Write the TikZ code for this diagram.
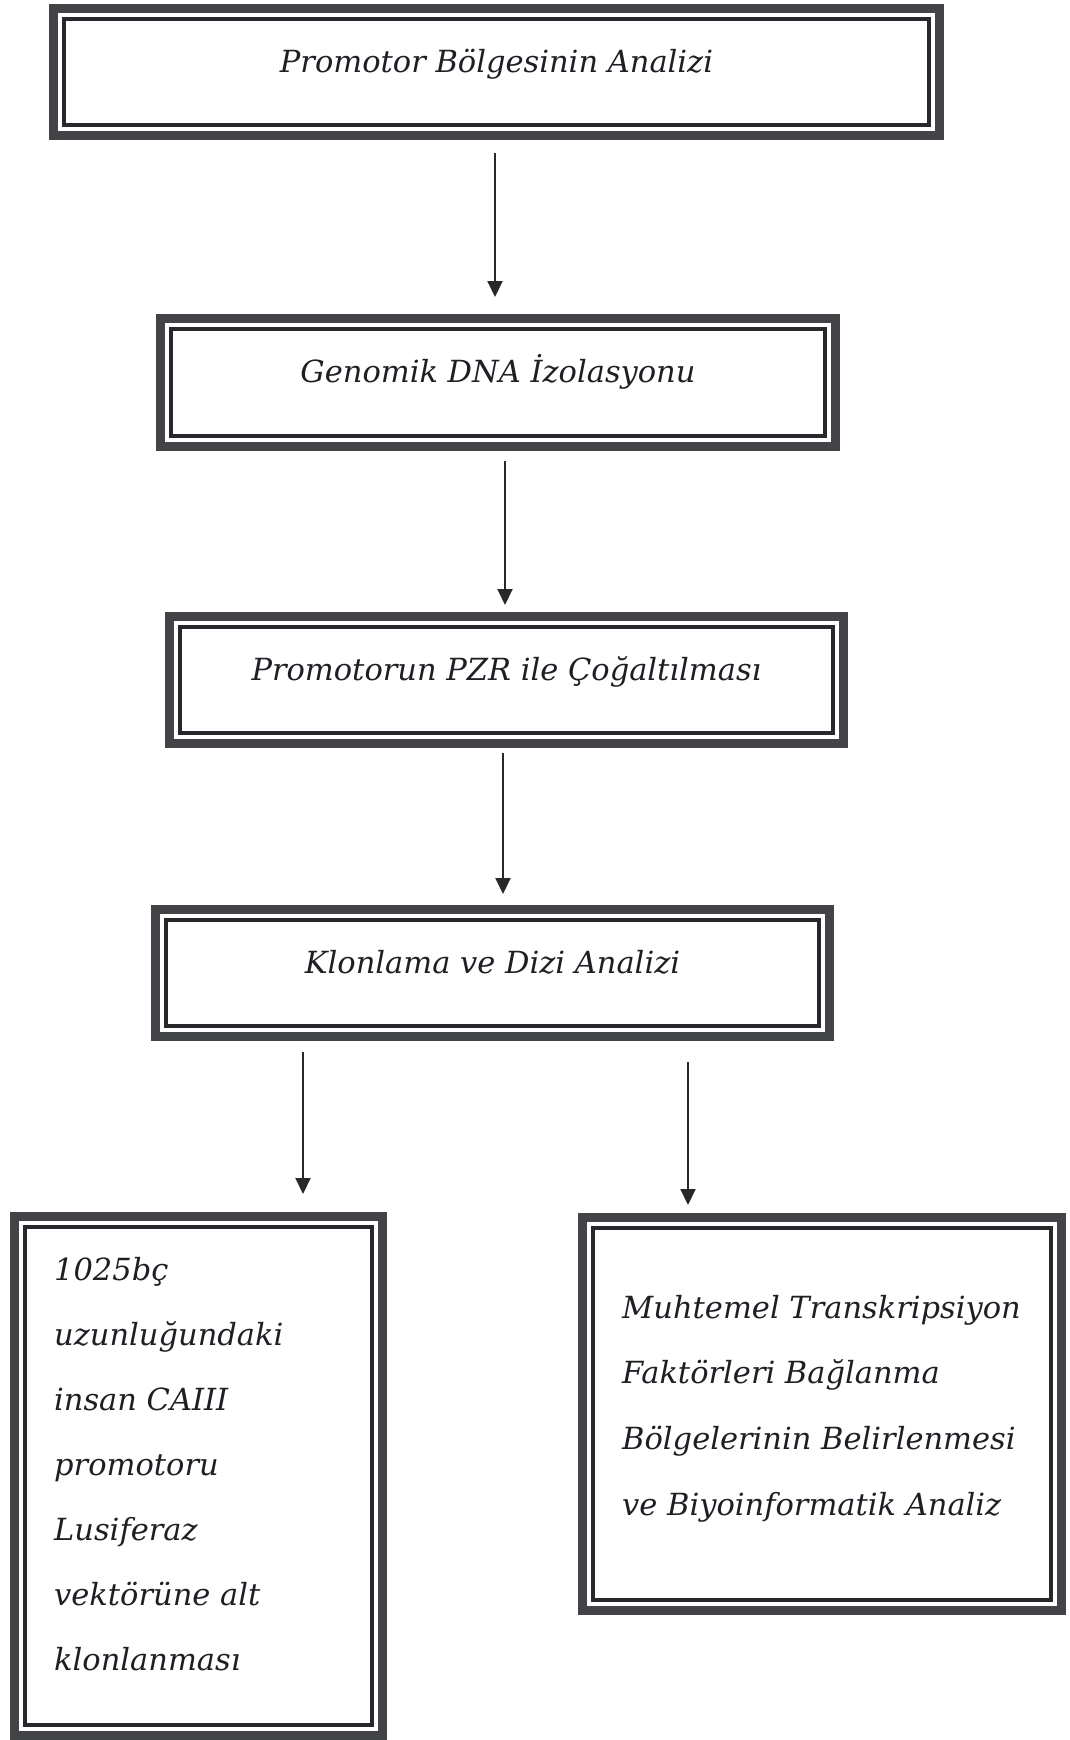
\documentclass[tikz,border=0pt]{standalone}
\usepackage{fontspec}
\setmainfont{DejaVu Serif}
\usetikzlibrary{arrows.meta}
\definecolor{framec}{RGB}{66,68,72}
\definecolor{innerc}{RGB}{40,40,44}
\definecolor{textc}{RGB}{30,30,36}
\definecolor{arrc}{RGB}{40,40,42}
\newcommand{\boxfont}{\itshape\fontsize{30.5}{65.5}\selectfont}
\tikzset{
  x=1pt, y=1pt,
  framebox/.style={draw=framec, line width=9pt, inner sep=0pt, text=textc,
    font=\boxfont, text height=0pt, text depth=0pt},
  innerline/.style={draw=innerc, line width=3.2pt},
  linetext/.style={anchor=base west, inner sep=0pt, text=textc, font=\boxfont},
  arr/.style={draw=arrc, line width=2pt, -{Triangle[width=15pt,length=16pt]}}
}
\begin{document}
\begin{tikzpicture}
\useasboundingbox (0,0) rectangle (1069,-1740);
% boxes (outer edges measured; min size = outer - 9)
\node[framebox, minimum width=886, minimum height=127] (b1) at (496.5,-72) {Promotor Bölgesinin Analizi};
\node[framebox, minimum width=675, minimum height=128] (b2) at (498,-382.5) {Genomik DNA İzolasyonu};
\node[framebox, minimum width=674, minimum height=127] (b3) at (506.5,-680) {Promotorun PZR ile Çoğaltılması};
\node[framebox, minimum width=674, minimum height=127] (b4) at (492.5,-973) {Klonlama ve Dizi Analizi};
\node[framebox, minimum width=368, minimum height=519] (b5) at (198.5,-1476) {};
\node[framebox, minimum width=479, minimum height=393] (b6) at (822,-1414) {};
\foreach \n in {b1,b2,b3,b4,b5,b6}{
  \draw[innerline] ([shift={(15,-15)}]\n.north west) rectangle ([shift={(-15,15)}]\n.south east);
}
% texts of the two lower boxes
\foreach \t [count=\i from 0] in {1025bç,uzunluğundaki,insan CAIII,promotoru,Lusiferaz,vektörüne alt,klonlanması}{
  \node[linetext] (l\i) at (54,{-1280-65*\i}) {\t};
}
\foreach \t [count=\i from 0] in {Muhtemel Transkripsiyon,Faktörleri Bağlanma,Bölgelerinin Belirlenmesi,ve Biyoinformatik Analiz}{
  \node[linetext] (r\i) at (622,{-1318-65.7*\i}) {\t};
}
% arrow columns
\coordinate (c1) at (495,0);
\coordinate (c2) at (505,0);
\coordinate (c3) at (503,0);
\coordinate (c4) at (303,0);
\coordinate (c5) at (688,0);
\draw[arr, shorten <=13pt, shorten >=17pt] (b1.south -| c1) -- (b2.north -| c1);
\draw[arr, shorten <=10pt, shorten >=7pt] (b2.south -| c2) -- (b3.north -| c2);
\draw[arr, shorten <=5pt, shorten >=11pt] (b3.south -| c3) -- (b4.north -| c3);
\draw[arr, shorten <=11pt, shorten >=18pt] (b4.south -| c4) -- (b5.north -| c4);
\draw[arr, shorten <=21pt, shorten >=8pt] (b4.south -| c5) -- (b6.north -| c5);
\end{tikzpicture}
\end{document}
